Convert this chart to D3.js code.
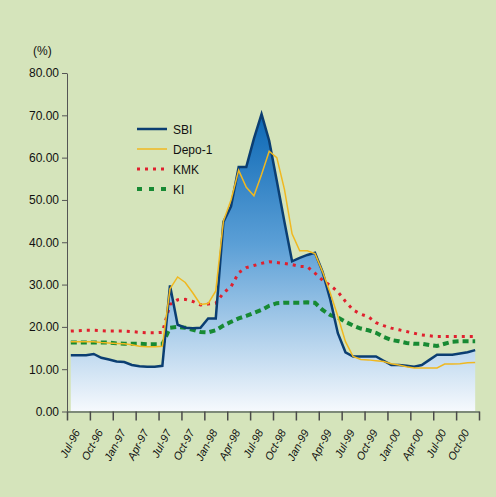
<!DOCTYPE html>
<html><head><meta charset="utf-8">
<script src="https://cdn.jsdelivr.net/npm/d3@7"></script>
<style>html,body{margin:0;padding:0;background:#d5e4bb;}svg{display:block;}</style>
</head><body>
<svg id="c" width="496" height="497"></svg>
<script>
const months = ["Jul-96","Aug-96","Sep-96","Oct-96","Nov-96","Dec-96","Jan-97","Feb-97","Mar-97","Apr-97","May-97","Jun-97",
"Jul-97","Aug-97","Sep-97","Oct-97","Nov-97","Dec-97","Jan-98","Feb-98","Mar-98","Apr-98","May-98","Jun-98",
"Jul-98","Aug-98","Sep-98","Oct-98","Nov-98","Dec-98","Jan-99","Feb-99","Mar-99","Apr-99","May-99","Jun-99",
"Jul-99","Aug-99","Sep-99","Oct-99","Nov-99","Dec-99","Jan-00","Feb-00","Mar-00","Apr-00","May-00","Jun-00",
"Jul-00","Aug-00","Sep-00","Oct-00","Nov-00","Dec-00"];
const tickLabels = ["Jul-96","Oct-96","Jan-97","Apr-97","Jul-97","Oct-97","Jan-98","Apr-98","Jul-98","Oct-98",
"Jan-99","Apr-99","Jul-99","Oct-99","Jan-00","Apr-00","Jul-00","Oct-00"];
const yTicks = [0,10,20,30,40,50,60,70,80];
const SBI = [13.3,13.3,13.3,13.6,12.7,12.3,11.8,11.7,11.0,10.7,10.6,10.6,10.8,29.8,20.5,19.8,19.7,19.8,22.0,22.0,
44.8,48.5,57.8,57.8,64.5,70.3,64.0,54.5,44.8,35.5,36.3,37.0,37.5,33.0,26.5,18.5,14.0,13.0,13.0,13.0,13.0,12.0,
11.0,11.0,10.8,10.6,11.0,12.2,13.4,13.4,13.4,13.7,14.0,14.5];
const Depo1 = [16.5,16.5,16.5,16.5,16.3,16.2,16.1,16.0,15.8,15.4,15.3,15.3,15.4,29.0,31.8,30.5,28.0,25.3,25.5,28.5,
45.0,50.0,57.0,53.0,51.0,56.0,61.5,60.0,52.5,42.0,38.0,38.0,37.3,33.0,28.0,22.5,16.5,13.0,12.3,12.2,12.0,11.8,
11.3,11.0,10.6,10.3,10.3,10.3,10.3,11.2,11.2,11.3,11.5,11.6];
const KMK = [19.0,19.1,19.2,19.2,19.1,19.0,19.0,19.0,18.9,18.7,18.6,18.6,18.7,25.3,26.4,26.5,26.0,25.2,25.4,25.6,
28.0,29.5,32.8,34.0,34.5,35.0,35.4,35.2,35.0,34.7,34.3,34.2,32.7,31.0,29.8,28.3,26.0,24.0,23.0,22.4,21.0,20.3,
19.7,19.3,18.9,18.5,18.1,17.9,17.7,17.7,17.7,17.7,17.7,17.7];
const KI = [16.3,16.3,16.3,16.3,16.3,16.3,16.1,16.0,16.0,16.0,15.9,15.9,15.9,19.8,20.0,19.8,19.3,18.8,18.7,19.2,
20.3,21.2,22.0,22.6,23.3,24.0,25.0,25.6,25.7,25.7,25.7,25.8,25.7,24.0,22.8,22.2,21.2,20.3,19.6,19.2,18.6,17.6,
16.9,16.6,16.2,16.0,16.0,15.7,15.5,16.0,16.5,16.6,16.6,16.6];

const svg = d3.select("#c");
const font = "'Liberation Sans', Arial, sans-serif";
svg.append("rect").attr("width",496).attr("height",497).attr("fill","#d5e4bb");

const x = d3.scaleLinear().domain([0, months.length]).range([67, 479]);
const y = d3.scaleLinear().domain([0, 80]).range([411.5, 73]);
const px = i => x(i + 0.5);

const defs = svg.append("defs");
const grad = defs.append("linearGradient").attr("id","g").attr("gradientUnits","userSpaceOnUse")
  .attr("x1",0).attr("x2",0).attr("y1",y(72)).attr("y2",y(0));
grad.append("stop").attr("offset","0%").attr("stop-color","#0865b3");
grad.append("stop").attr("offset","45%").attr("stop-color","#5b9fd6");
grad.append("stop").attr("offset","100%").attr("stop-color","#f6f9fd");

svg.append("path").datum(SBI)
  .attr("d", d3.area().x((d,i)=>px(i)).y0(y(0)).y1(d=>y(d)))
  .attr("fill","url(#g)");

const line = d3.line().x((d,i)=>px(i)).y(d=>y(d));

svg.append("path").datum(KI).attr("d",line).attr("fill","none")
  .attr("stroke","#178a33").attr("stroke-width",4).attr("stroke-dasharray","6,4");
svg.append("path").datum(KMK).attr("d",line).attr("fill","none")
  .attr("stroke","#e0202e").attr("stroke-width",3).attr("stroke-dasharray","3,5");
svg.append("path").datum(SBI).attr("d",line).attr("fill","none")
  .attr("stroke","#0b3e72").attr("stroke-width",2.5).attr("stroke-linejoin","miter");
svg.append("path").datum(Depo1).attr("d",line).attr("fill","none")
  .attr("stroke","#f0b820").attr("stroke-width",1.5);

const ya = svg.append("g").attr("transform","translate(67,0)")
  .call(d3.axisLeft(y).tickValues(yTicks).tickFormat(d3.format(".2f")).tickSize(5).tickSizeOuter(0));
ya.select(".domain").attr("stroke","#555");
ya.selectAll(".tick line").attr("stroke","#555");
ya.selectAll(".tick text").attr("font-family",font).attr("font-size",12).attr("fill","#111").attr("x",-8);

const qTicks = d3.range(0, months.length + 1, 3);
const xa = svg.append("g").attr("transform","translate(0,411.5)")
  .call(d3.axisBottom(x).tickValues(qTicks).tickFormat("").tickSize(9).tickSizeOuter(0));
xa.select(".domain").attr("stroke","#7d8a78").attr("stroke-width",2);
xa.selectAll(".tick line").attr("stroke","#4a4a4a").attr("stroke-width",1.5);

svg.append("g").selectAll("text").data(tickLabels).join("text")
  .attr("transform",(d,i)=>`translate(${x(i*3+1.5)+2},432) rotate(-62)`)
  .attr("text-anchor","end").attr("font-family",font).attr("font-style","italic")
  .attr("font-size",11).attr("fill","#111").text(d=>d);

svg.append("text").attr("x",33).attr("y",55).attr("font-family",font).attr("font-size",12)
  .attr("fill","#111").text("(%)");

const legend = [
  {name:"SBI", color:"#0b3e72", w:2.5, dash:null},
  {name:"Depo-1", color:"#f0b820", w:1.5, dash:null},
  {name:"KMK", color:"#e0202e", w:3, dash:"3,5"},
  {name:"KI", color:"#178a33", w:4, dash:"5,7"}
];
const lg = svg.append("g");
legend.forEach((d,i)=>{
  const yy = 129 + i*20;
  lg.append("line").attr("x1",137).attr("x2",167).attr("y1",yy).attr("y2",yy)
    .attr("stroke",d.color).attr("stroke-width",d.w).attr("stroke-dasharray",d.dash);
  lg.append("text").attr("x",173).attr("y",yy+4.5).attr("font-family",font).attr("font-size",12)
    .attr("fill","#111").text(d.name);
});
</script>
</body></html>
